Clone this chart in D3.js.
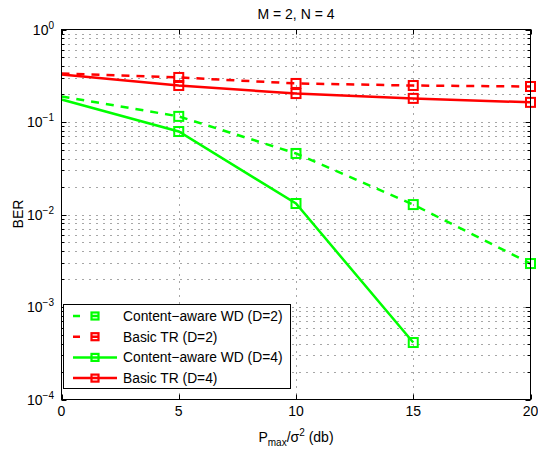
<!DOCTYPE html>
<html><head><meta charset="utf-8">
<script src="https://cdn.jsdelivr.net/npm/d3@7"></script>
<style>body{margin:0;background:#fff} text{font-family:"Liberation Sans",Arial,Helvetica,sans-serif;fill:#000}</style>
</head><body><svg id="c" width="538" height="452"></svg>
<script>
// ---- data ----
const snr = [0, 5, 10, 15, 20];
const cawdD2 = [0.189, 0.115, 0.0457, 0.0128, 0.00295];
const trD2 = [0.334, 0.303, 0.261, 0.248, 0.242];
const cawdD4 = [0.175, 0.0789, 0.01315, 0.000413];
const trD4 = [0.326, 0.248, 0.203, 0.180, 0.163];
const xTicks = [0, 5, 10, 15, 20];
const yTickExps = [0, -1, -2, -3, -4];
const seriesNames = ["Content\u2212aware WD (D=2)", "Basic TR (D=2)", "Content\u2212aware WD (D=4)", "Basic TR (D=4)"];
const titleText = "M = 2, N = 4";

const series = [
  {name: seriesNames[0], x: snr, y: cawdD2, color: "#00ff00", dash: "8,7"},
  {name: seriesNames[1], x: snr, y: trD2, color: "#ff0000", dash: "8,7"},
  {name: seriesNames[2], x: snr.slice(0, cawdD4.length), y: cawdD4, color: "#00ff00", dash: null},
  {name: seriesNames[3], x: snr, y: trD4, color: "#ff0000", dash: null}
];

const svg = d3.select("#c");
const L = 61.5, R = 530.5, T = 29.5, B = 399.5;
const x = d3.scaleLinear().domain([0, 20]).range([L, R]);
const y = d3.scaleLog().domain([1e-4, 1]).range([B, T]);

// minor/major y values
const yMinor = [];
for (let e = -4; e < 0; e++) for (let k = 2; k <= 9; k++) yMinor.push(k * Math.pow(10, e));
const yMajor = yTickExps.map(e => Math.pow(10, e));

// grid
const grid = svg.append("g").attr("stroke", "#222").attr("stroke-width", 1).attr("stroke-dasharray", "1,6").attr("opacity", 0.8);
[...yMinor, ...yMajor.filter(v => v > 1e-4 && v < 1)].forEach(v => {
  grid.append("line").attr("x1", L).attr("x2", R).attr("y1", Math.round(y(v)) + 0.5).attr("y2", Math.round(y(v)) + 0.5);
});
xTicks.filter(v => v > 0 && v < 20).forEach(v => {
  grid.append("line").attr("y1", T).attr("y2", B).attr("x1", Math.round(x(v)) + 0.5).attr("x2", Math.round(x(v)) + 0.5);
});

// lines
const line = d3.line().x(d => x(d[0])).y(d => y(d[1]));
series.forEach(s => {
  const pts = s.x.map((v, i) => [v, s.y[i]]);
  svg.append("path").datum(pts).attr("d", line).attr("fill", "none")
    .attr("stroke", s.color).attr("stroke-width", 2.5)
    .attr("stroke-dasharray", s.dash);
  svg.append("g").selectAll("rect").data(pts.filter(p => p[0] > 0)).join("rect")
    .attr("x", d => x(d[0]) - 4.5).attr("y", d => y(d[1]) - 4.5)
    .attr("width", 9).attr("height", 9)
    .attr("fill", "none").attr("stroke", s.color).attr("stroke-width", 2);
});

// axes box and ticks
const ax = svg.append("g").attr("stroke", "#000").attr("stroke-width", 1);
ax.append("rect").attr("x", L).attr("y", T).attr("width", R - L).attr("height", B - T).attr("fill", "none");
xTicks.forEach(v => {
  const px = Math.round(x(v)) + 0.5;
  ax.append("line").attr("x1", px).attr("x2", px).attr("y1", B).attr("y2", B - 5);
  ax.append("line").attr("x1", px).attr("x2", px).attr("y1", T).attr("y2", T + 5);
});
yMajor.forEach(v => {
  const py = Math.round(y(v)) + 0.5;
  ax.append("line").attr("x1", L).attr("x2", L + 5).attr("y1", py).attr("y2", py);
  ax.append("line").attr("x1", R).attr("x2", R - 5).attr("y1", py).attr("y2", py);
});
yMinor.forEach(v => {
  const py = Math.round(y(v)) + 0.5;
  ax.append("line").attr("x1", L).attr("x2", L + 3).attr("y1", py).attr("y2", py);
  ax.append("line").attr("x1", R).attr("x2", R - 3).attr("y1", py).attr("y2", py);
});

// tick labels
xTicks.forEach(v => {
  svg.append("text").attr("x", x(v)).attr("y", 416).attr("text-anchor", "middle")
    .attr("font-size", 14).text(v);
});
yTickExps.forEach(e => {
  const t = svg.append("text").attr("x", 54).attr("y", y(Math.pow(10, e)) + 5)
    .attr("text-anchor", "end").attr("font-size", 14);
  t.append("tspan").text("10");
  t.append("tspan").attr("font-size", 10).attr("dy", -6).text(e === 0 ? "0" : "\u2212" + Math.abs(e));
});

// title and axis labels
svg.append("text").attr("x", (L + R) / 2).attr("y", 19).attr("text-anchor", "middle")
  .attr("font-size", 14).text(titleText);
svg.append("text").attr("transform", "translate(23,214) rotate(-90)").attr("text-anchor", "middle")
  .attr("font-size", 14).text("BER");
const xl = svg.append("text").attr("x", (L + R) / 2).attr("y", 442).attr("text-anchor", "middle").attr("font-size", 14);
xl.append("tspan").text("P");
xl.append("tspan").attr("font-size", 10).attr("dy", 4).text("max");
xl.append("tspan").attr("dy", -4).text("/\u03c3");
xl.append("tspan").attr("font-size", 10).attr("dy", -6).text("2");
xl.append("tspan").attr("dy", 6).text(" (db)");

// legend
const lg = svg.append("g");
lg.append("rect").attr("x", 63.5).attr("y", 304.5).attr("width", 227).attr("height", 84)
  .attr("fill", "#fff").attr("stroke", "#000").attr("stroke-width", 1);
series.forEach((s, i) => {
  const cy = 316 + i * 20.7;
  lg.append("line").attr("x1", 73).attr("x2", 117).attr("y1", cy).attr("y2", cy)
    .attr("stroke", s.color).attr("stroke-width", 2.5)
    .attr("stroke-dasharray", s.dash ? "7,11.5,7,18.5" : null);
  lg.append("rect").attr("x", 95 - 3.5).attr("y", cy - 3.5).attr("width", 7).attr("height", 7)
    .attr("fill", "none").attr("stroke", s.color).attr("stroke-width", 2.2);
  lg.append("text").attr("x", 123).attr("y", cy + 5).attr("font-size", 13.8).text(s.name);
});
</script></body></html>
